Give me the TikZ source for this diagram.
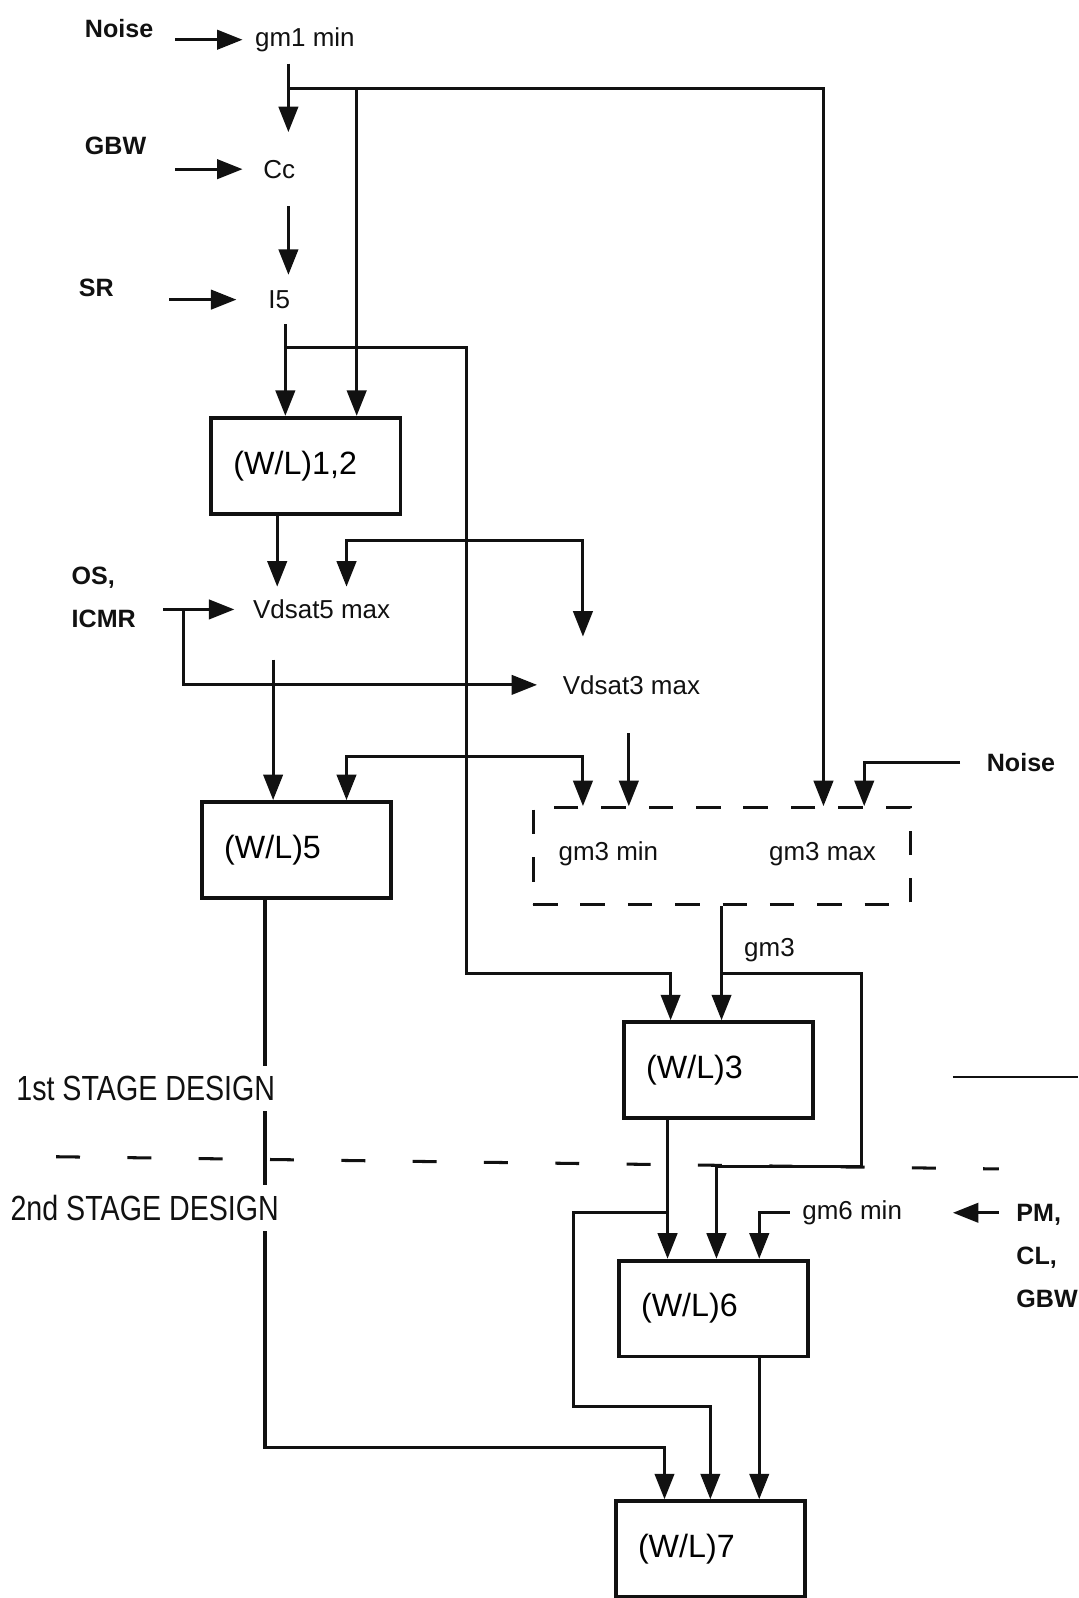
\documentclass[tikz,border=0pt]{standalone}
\usepackage{fontspec}
\setmainfont{Liberation Sans}
\newfontfamily\condfont{Liberation Sans}[FakeStretch=0.82]
\usepackage{tikz}
\usetikzlibrary{arrows.meta,calc}
\definecolor{DSInk}{HTML}{111111}

\begin{document}
\begin{tikzpicture}[x=0.02cm,y=-0.02cm,
  wire/.style={DSInk,line width=1.7pt},
  arr/.style={wire,-{Triangle[length=0.5cm,width=0.38cm]}},
  spec/.style={font=\bfseries\fontsize{14}{24}\selectfont,text=DSInk,anchor=west,align=left,inner sep=0pt},
  qty/.style={font=\fontsize{14.5}{17}\selectfont,text=DSInk,inner sep=0pt},
  wlbox/.style={draw=DSInk,line width=2.2pt,minimum width=3.72cm,minimum height=1.88cm,
    text width=2.84cm,inner xsep=0.44cm,align=left,font=\fontsize{18}{20}\selectfont},
  stage/.style={font=\condfont\fontsize{19.5}{22}\selectfont,text=DSInk,fill=white,inner xsep=1pt,inner ysep=0.2cm}]
\path[use as bounding box] (0,0) rectangle (1058,1568);
\fill[white] (0,0) rectangle (1058,1568);

% specs on the left and right
\node[spec] (noiseA) at (83,28) {Noise};
\node[spec] (gbw) at (83,143) {GBW};
\node[spec] (sr) at (77,282) {SR};
\node[spec] (osicmr) at (70,586) {OS,\\ICMR};
\node[spec] (noiseB) at (968,748) {Noise};
\node[spec] (pmcl) at (997,1232) {PM,\\CL,\\GBW};

% design quantities
\node[qty,anchor=west,minimum height=0.92cm] (gmmin) at (250,39) {gm1 min};
\node[qty,anchor=west,minimum height=1.44cm] (cc) at (258,166) {Cc};
\node[qty,anchor=west,minimum height=0.96cm] (ifive) at (263,294) {I5};
\node[qty,anchor=west,minimum height=0.88cm] (vdfive) at (248,598) {Vdsat5 max};
\node[qty,anchor=west,minimum height=1.88cm] (vdthree) at (552,672) {Vdsat3 max};
\node[draw=DSInk,line width=1.7pt,dash pattern=on 0.48cm off 0.45cm,
  minimum width=7.4cm,minimum height=1.9cm] (gmbox) at (708,840) {};
\node[qty] (gmthreemin) at (597,838) {gm3 min};
\node[qty] (gmthreemax) at (807,838) {gm3 max};
\node[qty] (gmthree) at (755,932) {gm3};
\node[qty,anchor=west] (gmsix) at (787,1190) {gm6 min};

% sizing boxes
\node[wlbox] (box12) at (300,457) {(W/L)1,2};
\node[wlbox] (box5) at (291,834) {(W/L)5};
\node[wlbox] (box3) at (705,1050) {(W/L)3};
\node[wlbox] (box6) at (700,1284) {(W/L)6};
\node[wlbox] (box7) at (697,1520) {(W/L)7};

% junctions
\coordinate (j1) at (283,87);
\coordinate (j1b) at (350,87);
\coordinate (j1r) at (808,87);
\coordinate (j2) at (280,341);
\coordinate (j2r) at (458,341);
\coordinate (j3) at (458,530);
\coordinate (j3l) at (340,530);
\coordinate (j3r) at (572,530);
\coordinate (j4) at (458,742);
\coordinate (j4l) at (340,742);
\coordinate (j4r) at (572,742);
\coordinate (j5) at (458,955);
\coordinate (j5r) at (658,955);
\coordinate (j6) at (180,598);
\coordinate (j6b) at (180,672);
\coordinate (j7) at (708,955);
\coordinate (j7r) at (845,955);
\coordinate (j7b) at (845,1145);
\coordinate (j7c) at (703,1145);
\coordinate (j8) at (655,1190);
\coordinate (j8l) at (563,1190);
\coordinate (j8b) at (563,1380);
\coordinate (j8c) at (697,1380);
\coordinate (j9) at (260,1420);
\coordinate (j9r) at (652,1420);
\coordinate (j10) at (745,1190);
\coordinate (j11) at (848,748);

% inputs
\draw[arr] ($(noiseA.west |- gmmin.west)+(89,0)$) -- ($(gmmin.west)+(-12,0)$);
\draw[arr] ($(gbw.west |- cc.west)+(89,0)$) -- ($(cc.west)+(-20,0)$);
\draw[arr] ($(sr.west |- ifive.west)+(89,0)$) -- ($(ifive.west)+(-31,0)$);
\draw[arr] ($(osicmr.west |- vdfive.west)+(90,0)$) -- ($(vdfive.west)+(-18,0)$);
\draw[arr] (j6) -- (j6b) -- ($(vdthree.west)+(-25,0)$);
\draw[arr] ($(noiseB.west)+(-26,0)$) -- (j11) -- (j11 |- gmbox.north);
\draw[arr] ($(pmcl.west |- gmsix.east)+(-17,0)$) -- ($(gmsix.west)+(148,0)$);

% first stage
\draw[arr] (j1 |- gmmin.south) -- (j1 |- cc.north);
\draw[arr] (j1) -- (j1r) -- (j1r |- gmbox.north);
\draw[arr] (j1b) -- (j1b |- box12.north);
\draw[arr] (j1 |- cc.south) -- (j1 |- ifive.north);
\draw[arr] (j2 |- ifive.south) -- (j2 |- box12.north);
\draw[arr] (j2) -- (j2r) -- (j5) -- (j5r) -- (j5r |- box3.north);
\draw[arr] (j3) -- (j3l) -- (j3l |- vdfive.north);
\draw[arr] (j3) -- (j3r) -- (j3r |- vdthree.north);
\draw[arr] (j4) -- (j4l) -- (j4l |- box5.north);
\draw[arr] (j4) -- (j4r) -- (j4r |- gmbox.north);
\draw[arr] ($(box12.south)+(-28,0)$) -- ($(box12.south |- vdfive.north)+(-28,0)$);
\draw[arr] ($(box5.north |- vdfive.south)+(-23,27)$) -- ($(box5.north)+(-23,0)$);
\draw[arr] ($(gmbox.north |- vdthree.south)+(-91,0)$) -- ($(gmbox.north)+(-91,0)$);
\draw[arr] (j7 |- gmbox.south) -- (j7 |- box3.north);

% second stage
\draw[arr] (j7) -- (j7r) -- (j7b) -- (j7c) -- (j7c |- box6.north);
\draw[arr] (j8 |- box3.south) -- (j8 |- box6.north);
\draw[arr] (j8) -- (j8l) -- (j8b) -- (j8c) -- (j8c |- box7.north);
\draw[arr] ($(gmsix.west)+(-12,0)$) -- (j10) -- (j10 |- box6.north);
\draw[arr] ($(box5.south)+(-31,0)$) -- (j9) -- (j9r) -- (j9r |- box7.north);
\draw[arr] ($(box6.south)+(45,0)$) -- ($(box6.south |- box7.north)+(45,0)$);

% stage border
\draw[DSInk,line width=1.7pt,dash pattern=on 0.47cm off 0.93cm] (55,1135) -- (980,1147);
\draw[DSInk,line width=1pt] (935,1057) -- (1058,1057);
\node[stage] (stageA) at (143,1068) {1st STAGE DESIGN};
\node[stage] (stageB) at (142,1185) {2nd STAGE DESIGN};
\end{tikzpicture}
\end{document}
